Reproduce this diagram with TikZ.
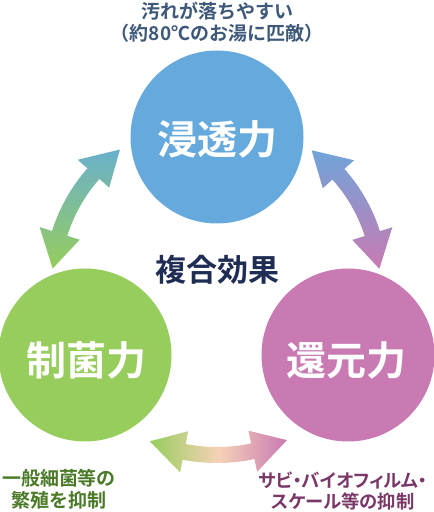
\documentclass[tikz,border=0pt]{standalone}
\usepackage{fontspec}
\newfontfamily\jp{Noto Sans CJK JP}[BoldFont={* Bold}]
\newfontfamily\jpp{Noto Sans CJK JP}[BoldFont={* Bold}, RawFeature=+palt]
\definecolor{cblue}{HTML}{66A9DC}
\definecolor{cgreen}{HTML}{96CD5C}
\definecolor{cpink}{HTML}{C97AB2}
\definecolor{cpeach}{HTML}{F6D2B6}
\definecolor{cteal}{HTML}{6AB0CC}
\definecolor{tnavy}{HTML}{1F2D55}
\definecolor{ttop}{HTML}{3D5878}
\definecolor{tgreen}{HTML}{4A7A28}
\definecolor{tpurple}{HTML}{7A3868}
\newcommand\dblarc[4]{%
 \pgfmathsetmacro\arrRa{#1+21}\pgfmathsetmacro\arrRb{#1+8}%
 \pgfmathsetmacro\arrRc{#1-8}\pgfmathsetmacro\arrRd{#1-21}%
 \pgfmathsetmacro\arrDd{36/#1*57.2958}%
 \pgfmathsetmacro\arrB{#2+\arrDd}\pgfmathsetmacro\arrE{#3-\arrDd}%
 \shade[#4] (#2:#1) -- (\arrB:\arrRa) -- (\arrB:\arrRb)
   arc[start angle=\arrB, end angle=\arrE, radius=\arrRb]
   -- (\arrE:\arrRa) -- (#3:#1) -- (\arrE:\arrRd) -- (\arrE:\arrRc)
   arc[start angle=\arrE, end angle=\arrB, radius=\arrRc]
   -- (\arrB:\arrRd) -- cycle;}
\tikzset{
  bigcirc/.style={circle, minimum size=173pt, inner sep=0pt},
  ctext/.style={text=white, font=\jp\bfseries\fontsize{40}{44}\selectfont},
  label19/.style={font=\jp\bfseries\fontsize{19}{21.5}\selectfont, align=center, inner sep=0.5pt}
}
\begin{document}
\begin{tikzpicture}[x=1pt,y=1pt]
\useasboundingbox (0,0) rectangle (434,512);
\node[bigcirc, fill=cblue] (top) at (217,375) {};
\node[bigcirc, fill=cgreen] (left) at (85,157) {};
\node[bigcirc, fill=cpink] (right) at (348,157) {};
\node[ctext] (ttop) at (217,373) {浸透力};
\node[ctext] (tleft) at (87,152) {制菌力};
\node[ctext] (tright) at (346,152) {還元力};
\node[text=tnavy, font=\jp\bfseries\fontsize{31}{34}\selectfont] (mid) at (217,242) {複合効果};
\node[label19, text=ttop] (toptxt) at (217,490) {汚れが落ちやすい\\（約80℃のお湯に匹敵）};
\node[label19, text=tgreen] (bl) at (59,23) {一般細菌等の\\繁殖を抑制};
\node[label19, text=tpurple, font=\jpp\bfseries\fontsize{18.3}{21.5}\selectfont] (br) at (343,21) {サビ・バイオフィルム・\\スケール等の抑制};
\begin{scope}[shift={(217,229)}]
\dblarc{165}{126}{175}{top color=cteal, bottom color=cgreen}
\dblarc{163}{5}{54.5}{top color=cblue!90!cpink, bottom color=cpink}
\dblarc{172}{247}{294}{left color=cgreen, right color=cpink, middle color=cpeach}
\end{scope}
\end{tikzpicture}
\end{document}
